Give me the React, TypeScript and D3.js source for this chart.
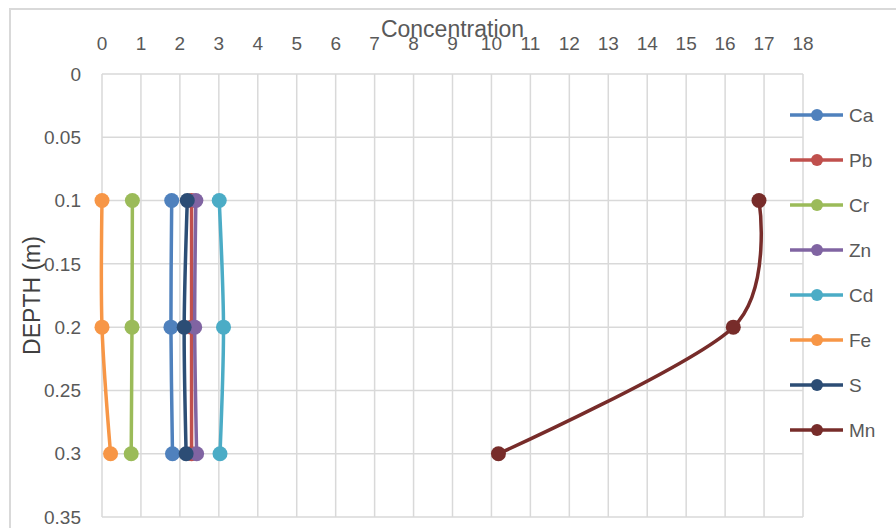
import React from "react";
import * as d3 from "d3";

// Depth levels (m) at which each element was measured
const depths = [0.1, 0.2, 0.3];

// Element names in legend order
const elements = ["Ca", "Pb", "Cr", "Zn", "Cd", "Fe", "S", "Mn"];

// Concentration per element, one value per depth
const caValues = [1.79, 1.77, 1.81];
const pbValues = [2.3, 2.3, 2.3];
const crValues = [0.78, 0.77, 0.75];
const znValues = [2.41, 2.38, 2.43];
const cdValues = [3.01, 3.12, 3.03];
const feValues = [0.0, 0.0, 0.22];
const sValues = [2.19, 2.11, 2.16];
const mnValues = [16.87, 16.21, 10.18];

const seriesValues = [caValues, pbValues, crValues, znValues, cdValues, feValues, sValues, mnValues];

const colors = ["#4F81BD", "#C0504D", "#9BBB59", "#8064A2", "#4BACC6", "#F79646", "#2C4D75", "#772C2A"];

const xTicks = d3.range(0, 19, 1);
const yTicks = [0, 0.05, 0.1, 0.15, 0.2, 0.25, 0.3, 0.35];

const W = 896;
const H = 528;
const plot = { left: 102, right: 803, top: 74, bottom: 517 };
const font = "'Liberation Sans', Arial, sans-serif";

export default function App() {
  const x = d3.scaleLinear().domain([0, 18]).range([plot.left, plot.right]);
  const y = d3.scaleLinear().domain([0, 0.35]).range([plot.top, plot.bottom]);

  const line = d3
    .line<[number, number]>()
    .x((d) => x(d[0]))
    .y((d) => y(d[1]))
    .curve(d3.curveCardinal.tension(0.1));

  const legendY = d3.scalePoint<string>().domain(elements).range([115, 430]);

  return (
    <svg
      width={W}
      height={H}
      style={{ position: "absolute", left: 0, top: 0, background: "#fff" }}
      fontFamily={font}
    >
      {/* chart frame */}
      <rect x={10} y={9} width={W} height={H} fill="#fff" stroke="#d9d9d9" strokeWidth={2} />

      {/* gridlines */}
      {xTicks.map((t) => (
        <line key={"gx" + t} x1={x(t)} x2={x(t)} y1={plot.top} y2={plot.bottom} stroke="#d9d9d9" strokeWidth={1.5} />
      ))}
      {yTicks.map((t) => (
        <line key={"gy" + t} x1={plot.left} x2={plot.right} y1={y(t)} y2={y(t)} stroke="#d9d9d9" strokeWidth={1.5} />
      ))}

      {/* x tick labels along the top */}
      {xTicks.map((t) => (
        <text key={"tx" + t} x={x(t)} y={50} textAnchor="middle" fontSize={19} fill="#595959">
          {t}
        </text>
      ))}

      {/* y tick labels */}
      {yTicks.map((t) => (
        <text
          key={"ty" + t}
          x={81}
          y={y(t)}
          dy="0.35em"
          textAnchor="end"
          fontSize={19}
          fill="#595959"
        >
          {d3.format("")(+t.toFixed(2))}
        </text>
      ))}

      {/* axis titles */}
      <text x={(plot.left + plot.right) / 2} y={37} textAnchor="middle" fontSize={23} fill="#595959">
        Concentration
      </text>
      <text
        transform={`translate(40, ${(plot.top + plot.bottom) / 2}) rotate(-90)`}
        textAnchor="middle"
        fontSize={23}
        fill="#404040"
      >
        DEPTH (m)
      </text>

      {/* series */}
      {elements.map((name, i) => {
        const pts = depths.map((d, j) => [seriesValues[i][j], d] as [number, number]);
        return (
          <g key={name}>
            <path d={line(pts) ?? ""} fill="none" stroke={colors[i]} strokeWidth={3.5} strokeLinecap="round" />
            {pts.map((p, j) => (
              <circle key={j} cx={x(p[0])} cy={y(p[1])} r={7.5} fill={colors[i]} />
            ))}
          </g>
        );
      })}

      {/* legend */}
      {elements.map((name, i) => {
        const ly = legendY(name) ?? 0;
        return (
          <g key={"lg" + name}>
            <line x1={790} x2={843} y1={ly} y2={ly} stroke={colors[i]} strokeWidth={3.5} />
            <circle cx={817} cy={ly} r={6} fill={colors[i]} />
            <text x={849} y={ly} dy="0.35em" fontSize={19} fill="#595959">
              {name}
            </text>
          </g>
        );
      })}
    </svg>
  );
}
